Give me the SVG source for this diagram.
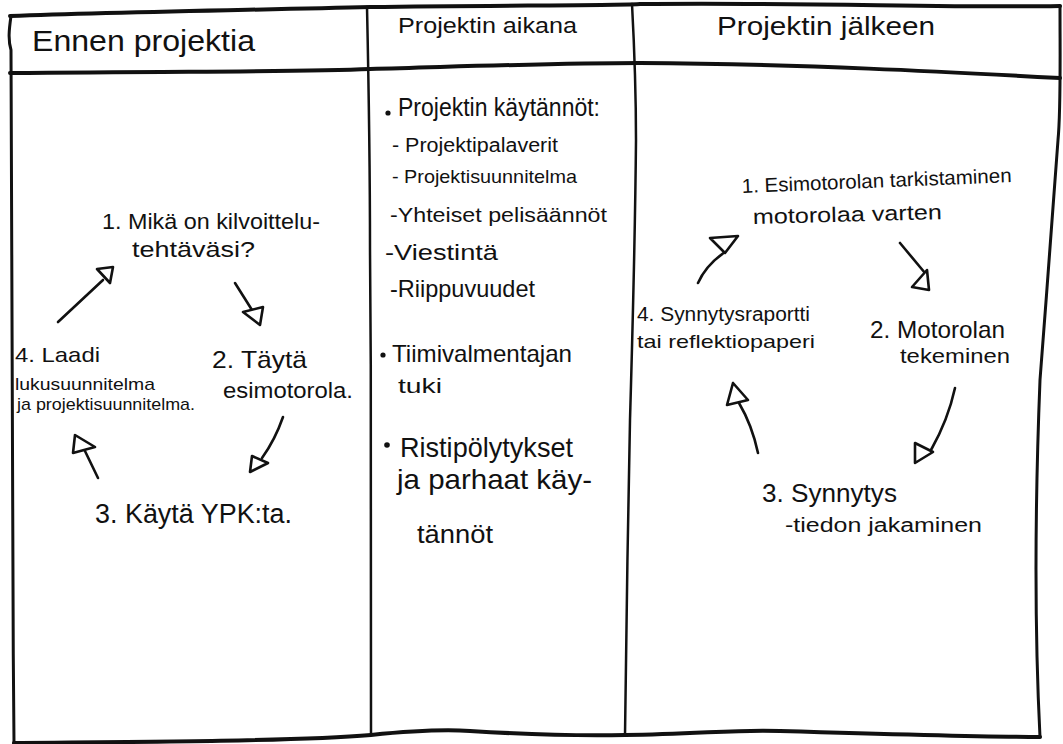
<svg xmlns="http://www.w3.org/2000/svg" width="1063" height="744" viewBox="0 0 1063 744">
<style>
.frame{fill:none;stroke:#111;stroke-width:3;stroke-linecap:round;stroke-linejoin:round}
.hline{fill:none;stroke:#111;stroke-width:4;stroke-linecap:round}
.div{fill:none;stroke:#111;stroke-width:2.5;stroke-linecap:round}
.t{font-family:"Liberation Sans","DejaVu Sans",sans-serif;fill:#111}
.ln{fill:none;stroke:#111;stroke-width:2.6;stroke-linecap:round}
.head{fill:#fff;stroke:#111;stroke-width:2.6;stroke-linejoin:round}
.dot{fill:#111}
</style>
<rect width="1063" height="744" fill="#fff"/>
<g id="frame">
<path class="hline" d="M10,16 C120,12 250,10 370,7 C500,5 600,6 640,4 C800,2 950,8 1060,6"/>
<path class="hline" d="M10,73 C200,71 300,72 370,69 C480,66 560,63 640,63 C800,64 950,72 1060,78"/>
<path class="frame" d="M11,16 C9,30 8,40 11,50 C10,250 12,500 14,743"/>
<path class="hline" d="M14,743 C150,742 300,741 371,735 C410,731 440,729 470,731 C520,734 580,736 625,735 C700,734 740,729 780,731 C880,734 980,737 1040,737"/>
<path class="frame" d="M1060,6 C1060,60 1061,110 1058,140 C1054,200 1046,300 1040,380 C1036,480 1033,600 1040,737"/>
<path class="div" d="M367,7 C369,100 370,200 370,250 C371,400 372,500 371,735"/>
<path class="div" d="M632,4 C635,60 636,100 636,140 C635,250 632,350 630,420 C628,520 626,640 625,735"/>
</g>
<g id="headers">
<g id="h1"><text class="t" x="32" y="51" font-size="30" textLength="223" lengthAdjust="spacingAndGlyphs">Ennen projektia</text></g>
<g id="h2"><text class="t" x="398" y="33" font-size="22" textLength="179" lengthAdjust="spacingAndGlyphs">Projektin aikana</text></g>
<g id="h3"><text class="t" x="717" y="35" font-size="26" textLength="218" lengthAdjust="spacingAndGlyphs">Projektin jälkeen</text></g>
</g>
<g id="col1">
<g id="c1-step1">
<text class="t" x="102" y="229" font-size="22" textLength="218" lengthAdjust="spacingAndGlyphs">1. Mikä on kilvoittelu-</text>
<text class="t" x="132" y="257" font-size="22" textLength="123" lengthAdjust="spacingAndGlyphs">tehtäväsi?</text>
</g>
<g id="c1-step2">
<text class="t" x="212" y="368" font-size="24" textLength="95" lengthAdjust="spacingAndGlyphs">2. Täytä</text>
<text class="t" x="223" y="398" font-size="22" textLength="130" lengthAdjust="spacingAndGlyphs">esimotorola.</text>
</g>
<g id="c1-step3">
<text class="t" x="95" y="523" font-size="27" textLength="197" lengthAdjust="spacingAndGlyphs">3. Käytä YPK:ta.</text>
</g>
<g id="c1-step4">
<text class="t" x="15" y="362" font-size="21" textLength="85" lengthAdjust="spacingAndGlyphs">4. Laadi</text>
<text class="t" x="15" y="390" font-size="17" textLength="140" lengthAdjust="spacingAndGlyphs">lukusuunnitelma</text>
<text class="t" x="17" y="410" font-size="17" textLength="178" lengthAdjust="spacingAndGlyphs">ja projektisuunnitelma.</text>
</g>
</g>
<g id="col2">
<g id="c2-kaytannot">
<circle class="dot" cx="388" cy="113" r="2.6"/>
<text class="t" x="398" y="116" font-size="26" textLength="202" lengthAdjust="spacingAndGlyphs">Projektin käytännöt:</text>
<text class="t" x="392" y="152" font-size="20" textLength="166" lengthAdjust="spacingAndGlyphs">- Projektipalaverit</text>
<text class="t" x="392" y="183" font-size="19" textLength="185" lengthAdjust="spacingAndGlyphs">- Projektisuunnitelma</text>
<text class="t" x="390" y="222" font-size="21" textLength="217" lengthAdjust="spacingAndGlyphs">-Yhteiset pelisäännöt</text>
<text class="t" x="385" y="260" font-size="22" textLength="113" lengthAdjust="spacingAndGlyphs">-Viestintä</text>
<text class="t" x="390" y="297" font-size="24" textLength="145" lengthAdjust="spacingAndGlyphs">-Riippuvuudet</text>
</g>
<g id="c2-tuki">
<circle class="dot" cx="383" cy="355" r="2.6"/>
<text class="t" x="392" y="362" font-size="24" textLength="180" lengthAdjust="spacingAndGlyphs">Tiimivalmentajan</text>
<text class="t" x="398" y="393" font-size="21" textLength="44" lengthAdjust="spacingAndGlyphs">tuki</text>
</g>
<g id="c2-risti">
<circle class="dot" cx="387" cy="445" r="2.8"/>
<text class="t" x="400" y="457" font-size="28" textLength="173" lengthAdjust="spacingAndGlyphs">Ristipölytykset</text>
<text class="t" x="397" y="489" font-size="28" textLength="195" lengthAdjust="spacingAndGlyphs">ja parhaat käy-</text>
<text class="t" x="417" y="543" font-size="25" textLength="76" lengthAdjust="spacingAndGlyphs">tännöt</text>
</g>
</g>
<g id="col3">
<g id="c3-step1">
<text class="t" x="742" y="193" font-size="20" textLength="270" lengthAdjust="spacingAndGlyphs" transform="rotate(-2.3 742 193)">1. Esimotorolan tarkistaminen</text>
<text class="t" x="753" y="224" font-size="21" textLength="189" lengthAdjust="spacingAndGlyphs" transform="rotate(-1.5 753 224)">motorolaa varten</text>
</g>
<g id="c3-step2">
<text class="t" x="870" y="338" font-size="24" textLength="135" lengthAdjust="spacingAndGlyphs">2. Motorolan</text>
<text class="t" x="900" y="363" font-size="20" textLength="110" lengthAdjust="spacingAndGlyphs">tekeminen</text>
</g>
<g id="c3-step3">
<text class="t" x="762" y="502" font-size="26" textLength="135" lengthAdjust="spacingAndGlyphs">3. Synnytys</text>
<text class="t" x="785" y="532" font-size="20" textLength="197" lengthAdjust="spacingAndGlyphs">-tiedon jakaminen</text>
</g>
<g id="c3-step4">
<text class="t" x="637" y="321" font-size="20" textLength="173" lengthAdjust="spacingAndGlyphs">4. Synnytysraportti</text>
<text class="t" x="637" y="348" font-size="19" textLength="178" lengthAdjust="spacingAndGlyphs">tai reflektiopaperi</text>
</g>
</g>
<g id="connectors">
<path class="ln" d="M58,322 L103,280"/>
<polygon class="head" points="113,267 97,269 110,283"/>
<path class="ln" d="M235,283 L252,310"/>
<polygon class="head" points="243,312 263,307 260,325"/>
<path class="ln" d="M283,417 Q275,440 262,458"/>
<polygon class="head" points="250,472 252,456 268,463"/>
<path class="ln" d="M98,478 L84,449"/>
<polygon class="head" points="75,435 73,453 95,447"/>
<path class="ln" d="M698,283 Q706,265 725,252"/>
<polygon class="head" points="710,238 738,236 725,253"/>
<path class="ln" d="M900,243 L925,273"/>
<polygon class="head" points="927,270 912,287 929,290"/>
<path class="ln" d="M955,388 Q948,420 931,450"/>
<polygon class="head" points="915,443 915,463 933,452"/>
<path class="ln" d="M758,453 Q752,425 739,403"/>
<polygon class="head" points="733,383 727,405 748,400"/>
</g>
</svg>
